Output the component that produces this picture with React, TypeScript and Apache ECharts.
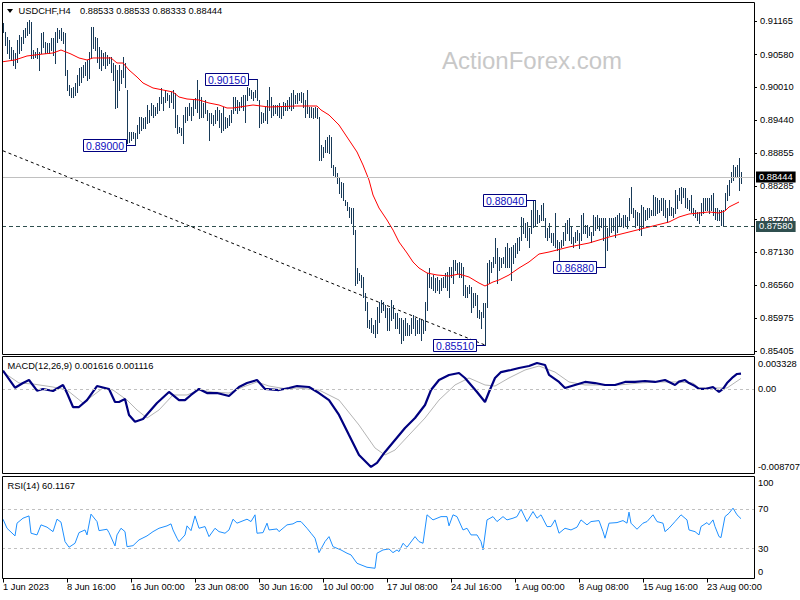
import React, { useEffect, useRef } from "react";
import * as echarts from "echarts";

// ---------- data ----------
const tickLabels = [
  "1 Jun 2023", "8 Jun 16:00", "16 Jun 00:00", "23 Jun 08:00", "30 Jun 16:00", "10 Jul 00:00",
  "17 Jul 08:00", "24 Jul 16:00", "1 Aug 00:00", "8 Aug 08:00", "15 Aug 16:00", "23 Aug 00:00",
];
const BARS_PER_LABEL = 32;
const SLOTS = 376; // 370 bars + right shift space

const priceTicks = [0.91165, 0.9058, 0.9001, 0.8944, 0.88855, 0.88285, 0.877, 0.8713, 0.8656, 0.85975, 0.85405];
const macdTicks = [0.003328, 0, -0.008707];
const rsiTicks = [100, 70, 30, 0];

const highs = [
  0.9113,0.9097,0.9089,0.9083,0.9071,0.9066,0.9061,0.9083,0.9092,0.9089,
  0.9101,0.9104,0.9115,0.9118,0.9115,0.9066,0.9063,0.9070,0.9063,0.9096,
  0.9097,0.9080,0.9078,0.9078,0.9087,0.9087,0.9097,0.9104,0.9101,0.9104,
  0.9097,0.9096,0.9031,0.9005,0.8999,0.9001,0.9008,0.9022,0.9035,0.9036,
  0.9040,0.9045,0.9048,0.9063,0.9106,0.9106,0.9089,0.9087,0.9071,0.9066,
  0.9061,0.9063,0.9057,0.9054,0.9054,0.9043,0.9040,0.9031,0.9040,0.9031,
  0.9054,0.9043,0.8996,0.8923,0.8923,0.8923,0.8921,0.8935,0.8949,0.8949,
  0.8947,0.8949,0.8970,0.8961,0.8973,0.8970,0.8966,0.8973,0.8984,0.8999,
  0.8984,0.8996,0.8991,0.8987,0.8993,0.8996,0.8991,0.8952,0.8931,0.8930,
  0.8952,0.8966,0.8966,0.8973,0.8966,0.8979,0.8982,0.9014,0.8996,0.8984,
  0.8973,0.8979,0.8961,0.8956,0.8956,0.8952,0.8961,0.8966,0.8961,0.8956,
  0.8966,0.8949,0.8947,0.8952,0.8961,0.8984,0.8984,0.8979,0.8975,0.8984,
  0.8987,0.8987,0.9001,0.8999,0.8996,0.8993,0.8996,0.9015,0.8979,0.8958,
  0.8956,0.8966,0.8979,0.9001,0.8984,0.8970,0.8970,0.8970,0.8973,0.8966,
  0.8975,0.8973,0.8979,0.8984,0.8991,0.8996,0.8987,0.8991,0.8991,0.8993,
  0.8991,0.8979,0.8996,0.8966,0.8966,0.8965,0.8966,0.8965,0.8949,0.8900,
  0.8896,0.8909,0.8914,0.8917,0.8914,0.8865,0.8861,0.8851,0.8844,0.8835,
  0.8834,0.8804,0.8800,0.8792,0.8790,0.8790,0.8752,0.8685,0.8677,0.8673,
  0.8670,0.8642,0.8626,0.8595,0.8598,0.8586,0.8595,0.8617,0.8626,0.8630,
  0.8626,0.8621,0.8616,0.8616,0.8630,0.8621,0.8607,0.8606,0.8598,0.8598,
  0.8595,0.8598,0.8589,0.8586,0.8598,0.8603,0.8598,0.8595,0.8598,0.8595,
  0.8595,0.8626,0.8677,0.8685,0.8670,0.8673,0.8668,0.8670,0.8665,0.8668,
  0.8670,0.8677,0.8679,0.8687,0.8687,0.8699,0.8699,0.8694,0.8696,0.8694,
  0.8687,0.8656,0.8652,0.8656,0.8652,0.8642,0.8642,0.8638,0.8612,0.8609,
  0.8624,0.8624,0.8694,0.8699,0.8696,0.8705,0.8738,0.8721,0.8705,0.8703,
  0.8705,0.8722,0.8729,0.8721,0.8722,0.8726,0.8729,0.8738,0.8740,0.8774,
  0.8773,0.8764,0.8766,0.8755,0.8787,0.8802,0.8804,0.8787,0.8778,0.8795,
  0.8799,0.8773,0.8755,0.8764,0.8747,0.8747,0.8781,0.8734,0.8731,0.8734,
  0.8748,0.8764,0.8769,0.8773,0.8757,0.8740,0.8748,0.8752,0.8747,0.8778,
  0.8781,0.8760,0.8760,0.8757,0.8748,0.8778,0.8774,0.8778,0.8773,0.8773,
  0.8773,0.8773,0.8755,0.8773,0.8773,0.8773,0.8774,0.8778,0.8781,0.8773,
  0.8778,0.8778,0.8774,0.8808,0.8827,0.8790,0.8787,0.8783,0.8781,0.8795,
  0.8792,0.8787,0.8790,0.8790,0.8787,0.8813,0.8809,0.8808,0.8804,0.8808,
  0.8808,0.8804,0.8790,0.8804,0.8792,0.8790,0.8822,0.8813,0.8825,0.8827,
  0.8825,0.8825,0.8808,0.8804,0.8813,0.8790,0.8787,0.8783,0.8783,0.8799,
  0.8808,0.8808,0.8808,0.8808,0.8813,0.8816,0.8790,0.8790,0.8787,0.8787,
  0.8787,0.8816,0.8830,0.8839,0.8853,0.8865,0.8861,0.8865,0.8877,0.8853,
];
const lows = [
  0.9097,0.9075,0.9061,0.9052,0.9048,0.9040,0.9035,0.9045,0.9061,0.9066,
  0.9078,0.9089,0.9092,0.9096,0.9052,0.9052,0.9054,0.9052,0.9031,0.9061,
  0.9071,0.9061,0.9063,0.9061,0.9066,0.9057,0.9043,0.9080,0.9087,0.9083,
  0.9078,0.9022,0.8996,0.8987,0.8984,0.8984,0.8987,0.8992,0.9005,0.9010,
  0.9019,0.9022,0.9014,0.9017,0.9052,0.9070,0.9066,0.9045,0.9035,0.9031,
  0.9040,0.9035,0.9040,0.9043,0.9027,0.9014,0.8965,0.8966,0.8996,0.9008,
  0.9019,0.9001,0.8904,0.8906,0.8909,0.8912,0.8900,0.8912,0.8921,0.8926,
  0.8930,0.8930,0.8938,0.8940,0.8952,0.8949,0.8952,0.8956,0.8961,0.8973,
  0.8961,0.8975,0.8979,0.8966,0.8975,0.8965,0.8931,0.8921,0.8923,0.8918,
  0.8904,0.8940,0.8944,0.8952,0.8944,0.8952,0.8965,0.8958,0.8947,0.8949,
  0.8949,0.8956,0.8944,0.8909,0.8938,0.8935,0.8938,0.8944,0.8931,0.8923,
  0.8926,0.8930,0.8931,0.8935,0.8940,0.8956,0.8961,0.8956,0.8961,0.8966,
  0.8961,0.8940,0.8979,0.8987,0.8982,0.8979,0.8984,0.8979,0.8931,0.8938,
  0.8940,0.8944,0.8938,0.8961,0.8949,0.8952,0.8956,0.8952,0.8949,0.8947,
  0.8952,0.8961,0.8961,0.8965,0.8961,0.8965,0.8973,0.8973,0.8979,0.8975,
  0.8966,0.8949,0.8956,0.8949,0.8949,0.8947,0.8949,0.8947,0.8874,0.8874,
  0.8879,0.8888,0.8888,0.8886,0.8861,0.8848,0.8844,0.8834,0.8816,0.8809,
  0.8804,0.8795,0.8787,0.8774,0.8764,0.8745,0.8656,0.8659,0.8665,0.8652,
  0.8635,0.8612,0.8583,0.8581,0.8574,0.8572,0.8565,0.8572,0.8591,0.8609,
  0.8612,0.8600,0.8577,0.8577,0.8595,0.8598,0.8581,0.8581,0.8572,0.8554,
  0.8560,0.8568,0.8568,0.8568,0.8572,0.8581,0.8568,0.8572,0.8572,0.8560,
  0.8572,0.8577,0.8612,0.8652,0.8651,0.8647,0.8644,0.8647,0.8642,0.8647,
  0.8652,0.8652,0.8647,0.8635,0.8670,0.8659,0.8682,0.8677,0.8670,0.8670,
  0.8638,0.8635,0.8635,0.8642,0.8609,0.8617,0.8621,0.8600,0.8598,0.8581,
  0.8600,0.8551,0.8617,0.8659,0.8679,0.8687,0.8694,0.8659,0.8682,0.8687,
  0.8694,0.8687,0.8687,0.8687,0.8665,0.8694,0.8705,0.8712,0.8717,0.8734,
  0.8747,0.8740,0.8734,0.8722,0.8747,0.8757,0.8760,0.8764,0.8766,0.8769,
  0.8769,0.8740,0.8734,0.8740,0.8731,0.8726,0.8722,0.8717,0.8699,0.8722,
  0.8726,0.8734,0.8747,0.8734,0.8729,0.8722,0.8731,0.8734,0.8720,0.8734,
  0.8747,0.8747,0.8740,0.8743,0.8731,0.8743,0.8752,0.8755,0.8752,0.8757,
  0.8734,0.8688,0.8717,0.8743,0.8748,0.8752,0.8740,0.8748,0.8760,0.8760,
  0.8757,0.8760,0.8755,0.8769,0.8781,0.8774,0.8757,0.8760,0.8752,0.8743,
  0.8757,0.8769,0.8771,0.8774,0.8778,0.8778,0.8778,0.8781,0.8783,0.8787,
  0.8778,0.8774,0.8766,0.8778,0.8778,0.8774,0.8781,0.8790,0.8804,0.8799,
  0.8809,0.8792,0.8790,0.8787,0.8783,0.8778,0.8774,0.8769,0.8764,0.8778,
  0.8781,0.8787,0.8787,0.8781,0.8787,0.8778,0.8771,0.8769,0.8769,0.8760,
  0.8758,0.8787,0.8804,0.8813,0.8835,0.8839,0.8844,0.8844,0.8822,0.8833,
];

const maIdx = [0,6,12,20,25,29,34,38,42,45,54,57,60,63,67,70,75,80,85,88,92,98,103,108,112,115,125,133,147,157,159,163,168,173,177,180,183,185,188,192,195,198,202,205,208,212,217,223,228,233,238,241,245,248,253,258,263,268,273,283,293,303,313,323,333,338,343,353,358,361,363,366,368];
const maVal = [0.90455,0.90485,0.90555,0.90589,0.90607,0.90659,0.90589,0.9052,0.90485,0.9052,0.9052,0.90432,0.90432,0.9031,0.90188,0.90083,0.89996,0.89961,0.89926,0.89839,0.89804,0.89787,0.89734,0.89699,0.89647,0.89647,0.89699,0.89664,0.89682,0.89682,0.89612,0.89525,0.8935,0.89088,0.88879,0.88652,0.8839,0.88128,0.87901,0.87692,0.87517,0.87308,0.87116,0.86959,0.86854,0.86767,0.86732,0.86714,0.86749,0.86697,0.86592,0.8654,0.8661,0.86645,0.86732,0.86854,0.86959,0.87098,0.87133,0.87221,0.8729,0.87395,0.87482,0.8757,0.87657,0.87744,0.87797,0.87832,0.87814,0.87849,0.87919,0.87971,0.88006];

const trendIdx = [0, 241];
const trendVal = [0.889, 0.8551];

const lastPrice = 0.88444;
const levelPrice = 0.8758;

const annIdx = [66, 127, 241, 266, 301];
const annPrice = [0.89, 0.9015, 0.8551, 0.8804, 0.8688];
const annText = ["0.89000", "0.90150", "0.85510", "0.88040", "0.86880"];

const macdIdx = [0,6,10,13,17,20,25,30,32,35,38,42,47,53,56,58,61,63,66,70,77,83,88,91,94,98,102,107,113,118,122,127,131,138,143,147,153,158,163,168,173,178,182,184,187,191,196,201,206,211,214,218,223,228,231,234,237,241,243,246,249,254,258,263,267,271,273,278,281,286,291,296,301,306,311,316,321,326,331,336,338,341,343,346,348,351,355,358,360,362,365,367,369];
const macdVal = [0.00192,0.00017,0.00065,0.00096,-0.00014,0.00004,-0.00017,0.00045,-0.00038,-0.00182,-0.00182,-0.0011,0.00034,0.00004,-0.0013,-0.0013,-0.00099,-0.00263,-0.00333,-0.00305,-0.0014,-0.00027,-0.0011,-0.0011,-0.00058,0.00004,-0.00038,-0.00038,-0.00068,0.00024,0.00065,0.00096,0.00004,-0.00007,0.00014,0.00034,0.00024,-0.00038,-0.0011,-0.00263,-0.0047,-0.00675,-0.00757,-0.00798,-0.00757,-0.00644,-0.00521,-0.00398,-0.00295,-0.00161,-0.00007,0.00096,0.00148,0.00168,0.00117,0.00045,-0.00027,-0.0013,-0.00027,0.00117,0.00178,0.00199,0.0022,0.0024,0.00271,0.00251,0.00148,0.00076,0.00014,0.00045,0.00076,0.00065,0.00045,0.00045,0.00076,0.00076,0.00086,0.00076,0.00096,0.00045,0.00079,0.00096,0.00065,0.00034,0.00004,0.00004,0.00024,-0.00027,0.00004,0.00065,0.00127,0.00158,0.00162];

const sigIdx = [0,8,15,25,32,40,44,50,55,62,67,72,78,85,92,98,105,113,120,127,133,142,147,158,168,178,186,191,196,203,211,218,226,233,241,246,253,261,268,276,283,291,298,308,318,328,338,345,348,355,362,369];
const sigVal = [0.00178,0.00065,0.00055,0.00024,-0.00007,-0.0014,-0.00079,0.00014,-0.00007,-0.0011,-0.00212,-0.00295,-0.00212,-0.00058,-0.00058,-0.00007,-0.00027,-0.00038,0.00024,0.00076,0.00034,0.00004,0.00014,-0.00007,-0.0011,-0.00367,-0.00603,-0.00675,-0.00624,-0.0047,-0.00295,-0.0011,0.00045,0.00117,0.00045,0.00034,0.00117,0.00199,0.0024,0.00178,0.00076,0.00045,0.00045,0.00045,0.00065,0.00076,0.00076,0.00065,0.00014,0.00014,0.00014,0.00112];

const rsiIdx = [0,2,6,7,10,13,14,17,19,22,25,27,29,31,33,36,38,41,42,44,47,48,52,53,56,57,59,61,62,65,68,72,75,78,82,84,85,87,88,91,92,94,96,98,101,103,106,108,111,113,115,117,119,122,124,126,127,130,132,133,137,138,142,145,147,149,152,154,156,158,161,163,165,169,172,174,177,182,186,187,190,193,195,197,198,200,202,206,208,210,212,215,219,222,223,225,227,230,232,234,237,239,240,242,245,247,250,252,255,257,259,262,265,267,269,272,274,276,278,281,284,287,289,292,294,298,300,301,303,307,310,312,313,314,317,320,322,325,327,330,331,333,336,339,342,343,346,348,349,352,353,355,356,358,359,361,363,365,367,369];
const rsiVal = [59.6,50.5,42.8,55.6,60.6,62.9,45.5,43.8,53.9,51.6,47.1,59.6,56.6,37.1,31.4,35.4,46.1,48.8,43.8,64.7,57.2,48.1,49.5,46.1,32.7,43.8,50.5,47.1,32.0,33.0,38.8,42.8,47.1,50.5,52.9,54.9,48.8,40.5,37.1,43.8,52.9,48.1,62.9,50.5,52.2,42.1,50.5,47.1,45.5,48.8,59.6,55.6,57.2,59.6,57.2,64.0,45.5,46.1,55.6,48.8,49.8,47.1,53.9,54.9,57.2,57.2,50.5,45.5,40.5,26.0,37.1,42.1,32.0,28.7,25.4,23.7,15.3,11.3,10.3,25.4,28.7,29.7,26.0,28.7,27.0,35.4,31.4,42.1,37.1,35.4,64.0,58.9,62.2,62.2,52.9,64.0,62.2,48.8,50.5,43.8,43.8,37.1,28.7,58.9,62.2,57.2,62.2,58.9,60.6,62.2,69.7,57.2,67.3,60.6,64.0,52.2,52.2,58.9,45.5,50.5,48.8,51.6,58.9,53.9,57.2,58.2,47.1,40.5,55.6,56.2,58.2,55.6,66.7,55.6,49.5,55.6,57.2,64.0,57.2,55.6,47.1,50.5,57.2,64.0,58.9,48.8,47.1,43.8,52.2,56.2,53.9,58.9,52.2,42.1,41.1,62.2,65.6,70.7,64.0,60.1];

// ---------- layout ----------
const FONT = "Liberation Sans";
const FS = 9.3;
const MAIN_MAX = 0.91497;
const MAIN_MIN = 0.85353;
const MACD_MAX = 0.003328;
const MACD_MIN = -0.008707;

export default function App() {
  const ref = useRef<HTMLDivElement>(null);

  useEffect(() => {
    if (!ref.current) return;
    const chart = echarts.init(ref.current, null, { renderer: "svg" });

    const cats = Array.from({ length: SLOTS }, (_, i) => String(i));
    const barData = highs.map((h, i) => [i, h, lows[i]]);
    const pairs = (ix: number[], vs: number[]) => ix.map((x, k) => [x, vs[k]]);

    const showIdx = (index: number) =>
      index % BARS_PER_LABEL === 0 && index / BARS_PER_LABEL < tickLabels.length;

    const hiddenX = (gi: number) => ({
      type: "category",
      gridIndex: gi,
      data: cats,
      boundaryGap: true,
      axisLine: { show: false },
      axisTick: { show: false },
      axisLabel: { show: false },
      splitLine: { show: false },
    });

    const frame = (y: number, h: number) => ({
      type: "rect",
      z: 100,
      silent: true,
      shape: { x: 2.5, y, width: 752, height: h },
      style: { fill: "none", stroke: "#000", lineWidth: 1 },
    });

    const txt = (x: number, y: number, text: string, extra: any = {}) => ({
      type: "text",
      x,
      y,
      z: 101,
      silent: true,
      style: {
        text,
        fill: "#000",
        fontSize: FS,
        fontFamily: FONT,
        align: "left",
        verticalAlign: "middle",
        ...extra,
      },
    });

    const levelLabel = (value: number, bg: string) => ({
      show: true,
      position: "end",
      distance: 2,
      formatter: value.toFixed(5),
      backgroundColor: bg,
      color: "#ffffff",
      padding: [1, 3, 0, 3],
      lineHeight: 10,
      fontSize: FS,
      fontFamily: FONT,
    });

    const option: any = {
      animation: false,
      backgroundColor: "#ffffff",
      grid: [
        { left: 2, width: 752, top: 2, height: 352, containLabel: false, outerBoundsMode: "none" },
        { left: 2, width: 752, top: 357, height: 117, containLabel: false, outerBoundsMode: "none" },
        { left: 2, width: 752, top: 479, height: 99.5, containLabel: false, outerBoundsMode: "none" },
      ],
      xAxis: [
        hiddenX(0),
        hiddenX(1),
        {
          type: "category",
          gridIndex: 2,
          data: cats,
          boundaryGap: true,
          axisLine: { show: false },
          axisTick: {
            show: true,
            alignWithLabel: true,
            interval: (index: number) => showIdx(index),
            length: 4,
            lineStyle: { color: "#000", width: 1 },
          },
          axisLabel: {
            show: true,
            interval: (index: number) => showIdx(index),
            formatter: (value: string) => tickLabels[Number(value) / BARS_PER_LABEL] ?? "",
            align: "left",
            margin: 4,
            color: "#000",
            fontSize: FS,
            fontFamily: FONT,
          },
          splitLine: { show: false },
        },
      ],
      yAxis: [
        {
          type: "value",
          gridIndex: 0,
          position: "right",
          min: MAIN_MIN,
          max: MAIN_MAX,
          axisLine: { show: false },
          splitLine: { show: false },
          axisTick: {
            show: true,
            customValues: priceTicks,
            length: 3,
            lineStyle: { color: "#000" },
          },
          axisLabel: {
            customValues: priceTicks,
            formatter: (v: number) => v.toFixed(5),
            margin: 6,
            color: "#000",
            fontSize: FS,
            fontFamily: FONT,
          },
        },
        {
          type: "value",
          gridIndex: 1,
          position: "right",
          min: MACD_MIN,
          max: MACD_MAX,
          axisLine: { show: false },
          splitLine: { show: false },
          axisTick: { show: false },
          axisLabel: {
            customValues: macdTicks,
            formatter: (v: number) =>
              v === 0 ? "0.00" : v > 0 ? `{t|${v.toFixed(6)}}` : `{b|${v.toFixed(6)}}`,
            margin: 4,
            color: "#000",
            fontSize: FS,
            fontFamily: FONT,
            rich: {
              t: { padding: [14, 0, 0, 0], fontSize: FS, fontFamily: FONT, color: "#000" },
              b: { padding: [0, 0, 14, 0], fontSize: FS, fontFamily: FONT, color: "#000" },
            },
          },
        },
        {
          type: "value",
          gridIndex: 2,
          position: "right",
          min: 0,
          max: 100,
          axisLine: { show: false },
          splitLine: { show: false },
          axisTick: { show: false },
          axisLabel: {
            customValues: rsiTicks,
            formatter: (v: number) => (v === 100 ? "{t|100}" : v === 0 ? "{b|0}" : String(v)),
            margin: 4,
            color: "#000",
            fontSize: FS,
            fontFamily: FONT,
            rich: {
              t: { padding: [8, 0, 0, 0], fontSize: FS, fontFamily: FONT, color: "#000" },
              b: { padding: [0, 0, 13, 0], fontSize: FS, fontFamily: FONT, color: "#000" },
            },
          },
        },
      ],
      series: [
        // horizontal price levels (behind bars)
        {
          type: "line",
          xAxisIndex: 0,
          yAxisIndex: 0,
          z: 1,
          silent: true,
          showSymbol: false,
          data: pairs(trendIdx, trendVal),
          lineStyle: { color: "#000000", width: 1, type: [3, 3] },
          markLine: {
            silent: true,
            symbol: ["none", "none"],
            precision: 6,
            animation: false,
            data: [
              {
                yAxis: lastPrice,
                lineStyle: { color: "#c0c0c0", type: "solid", width: 1 },
                label: levelLabel(lastPrice, "#000000"),
              },
              {
                yAxis: levelPrice,
                lineStyle: { color: "#2f4f4f", type: [4, 3], width: 1 },
                label: levelLabel(levelPrice, "#2f4f4f"),
              },
            ],
          },
        },
        // price bars (high-low)
        {
          type: "custom",
          xAxisIndex: 0,
          yAxisIndex: 0,
          z: 2,
          silent: true,
          data: barData,
          encode: { x: 0, y: [1, 2] },
          renderItem: (_params: any, api: any) => {
            const a = api.coord([api.value(0), api.value(1)]);
            const b = api.coord([api.value(0), api.value(2)]);
            const x = Math.round(a[0]) + 0.5;
            return {
              type: "line",
              shape: { x1: x, y1: Math.round(a[1]), x2: x, y2: Math.round(b[1]) + 1 },
              style: { stroke: "#183a58", lineWidth: 1 },
            };
          },
        },
        // moving average
        {
          type: "line",
          xAxisIndex: 0,
          yAxisIndex: 0,
          z: 3,
          silent: true,
          showSymbol: false,
          data: pairs(maIdx, maVal),
          lineStyle: { color: "#ff0000", width: 1 },
        },
        // price annotations
        {
          type: "custom",
          xAxisIndex: 0,
          yAxisIndex: 0,
          z: 6,
          silent: true,
          clip: false,
          data: pairs(annIdx, annPrice),
          encode: { x: 0, y: 1 },
          renderItem: (params: any, api: any) => {
            const p = api.coord([api.value(0), api.value(1)]);
            const bx = Math.round(p[0]) + 0.5;
            const by = Math.round(p[1]) + 0.5;
            const right = bx - 9;
            const w = 43;
            return {
              type: "group",
              children: [
                { type: "line", shape: { x1: right, y1: by, x2: bx, y2: by }, style: { stroke: "#000080", lineWidth: 1 } },
                {
                  type: "rect",
                  shape: { x: right - w, y: by - 6, width: w, height: 12 },
                  style: { fill: "#ffffff", stroke: "#000080", lineWidth: 1 },
                },
                {
                  type: "text",
                  x: right - w / 2,
                  y: by + 0.5,
                  style: {
                    text: annText[params.dataIndex],
                    fill: "#1010c0",
                    fontSize: 10.5,
                    fontFamily: FONT,
                    align: "center",
                    verticalAlign: "middle",
                  },
                },
              ],
            };
          },
        },
        // MACD signal
        {
          type: "line",
          xAxisIndex: 1,
          yAxisIndex: 1,
          z: 2,
          silent: true,
          showSymbol: false,
          data: pairs(sigIdx, sigVal),
          lineStyle: { color: "#b4b4b4", width: 1 },
          markLine: {
            silent: true,
            symbol: ["none", "none"],
            precision: 6,
            label: { show: false },
            data: [{ yAxis: 0 }],
            lineStyle: { color: "#c0c0c0", type: [3, 3], width: 1 },
          },
        },
        // MACD main
        {
          type: "line",
          xAxisIndex: 1,
          yAxisIndex: 1,
          z: 3,
          silent: true,
          showSymbol: false,
          data: pairs(macdIdx, macdVal),
          lineStyle: { color: "#000080", width: 2.2 },
        },
        // RSI
        {
          type: "line",
          xAxisIndex: 2,
          yAxisIndex: 2,
          z: 3,
          silent: true,
          showSymbol: false,
          data: pairs(rsiIdx, rsiVal),
          lineStyle: { color: "#1e90ff", width: 1 },
          markLine: {
            silent: true,
            symbol: ["none", "none"],
            label: { show: false },
            data: [{ yAxis: 70 }, { yAxis: 30 }],
            lineStyle: { color: "#c0c0c0", type: [3, 3], width: 1 },
          },
        },
      ],
      graphic: [
        frame(2.5, 352),
        frame(356.5, 117),
        frame(476.5, 102),
        {
          type: "polygon",
          z: 101,
          silent: true,
          shape: { points: [[7, 9], [13, 9], [10, 13]] },
          style: { fill: "#000" },
        },
        txt(18.5, 11, "USDCHF,H4"),
        txt(80, 11, "0.88533 0.88533 0.88333 0.88444"),
        txt(442, 60, "ActionForex.com", { fill: "#c8c8c8", fontSize: 24 }),
        txt(7.5, 365.5, "MACD(12,26,9) 0.001616 0.001116"),
        txt(7.5, 485.5, "RSI(14) 60.1167"),
      ],
    };

    chart.setOption(option);
    return () => chart.dispose();
  }, []);

  return (
    <div
      ref={ref}
      style={{ position: "fixed", left: 0, top: 0, width: 800, height: 600, background: "#ffffff" }}
    />
  );
}
